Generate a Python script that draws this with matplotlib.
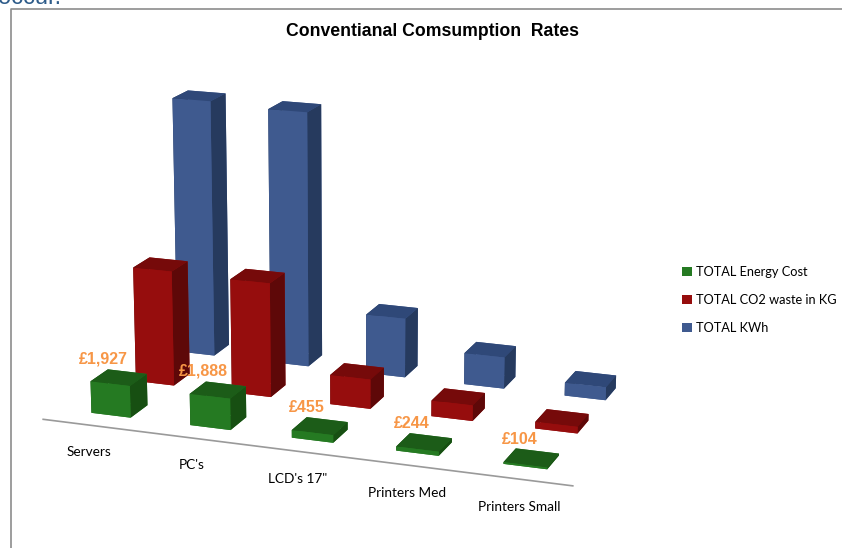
import matplotlib
matplotlib.use("Agg")
import matplotlib.pyplot as plt
from matplotlib.patches import Patch
from matplotlib.lines import Line2D

categories = ["Servers", "PC's", "LCD's 17\"", "Printers Med", "Printers Small"]
series_names = ["TOTAL Energy Cost", "TOTAL CO2 waste in KG", "TOTAL KWh"]
energy_cost = [1927, 1888, 455, 244, 104]
co2_waste = [7100, 7000, 1800, 950, 400]
kwh = [16100, 15900, 3700, 1950, 800]
cost_labels = ["£1,927", "£1,888", "£455", "£244", "£104"]

face_colors = [
    {"front": "#257A22", "top": "#1C5C18", "side": "#174F12"},
    {"front": "#960D0D", "top": "#760A0A", "side": "#5E0808"},
    {"front": "#3F5A8F", "top": "#2F4878", "side": "#263A5E"},
]
legend_colors = ["#257A22", "#960D0D", "#3F5A8F"]

fig = plt.figure(figsize=(8.42, 5.48), dpi=100)
ax = fig.add_axes([-0.295, -0.512, 1.4, 2.0], projection="3d", computed_zorder=False)
ax.set_proj_type("persp", focal_length=0.45)
ax.view_init(elev=16, azim=-70)
ax.set_box_aspect((4.7, 2.8, 2.485), zoom=0.6095)
ax.set_xlim(0, 5)
ax.set_ylim(0, 3)
ax.set_zlim(0, 16500)
ax.set_axis_off()
ax.patch.set_alpha(0)

width = 0.40
depth = 0.38
for s, vals in enumerate([energy_cost, co2_waste, kwh]):
    c = face_colors[s]
    for i, v in enumerate(vals):
        cols = [c["front"], c["top"], c["front"], c["front"], c["side"], c["side"]]
        ax.bar3d(i + 0.31, s + 0.32, 0, width, depth, v, color=cols, shade=False,
                 edgecolor=None, linewidth=0, zorder=10 - 3 * s + i)

ax.plot([-0.03, 5.03], [0, 0], [0, 0], color="#9a9a9a", lw=1.2, zorder=5)
for i, (cat, lab, v) in enumerate(zip(categories, cost_labels, energy_cost)):
    ax.text(i + 0.74, -0.65, 0, cat, fontsize=9.8, family="Lato", ha="center", va="center", zorder=30)
    ax.text(i + 0.46, 0.3, v + 1500, lab, fontsize=11.5, family="Liberation Sans", weight="bold",
            color="#F79646", ha="center", va="center", zorder=30)

fig.text(432.5 / 842, 1 - 31 / 548, "Conventianal Comsumption  Rates", fontsize=12.7,
         family="Liberation Sans", weight="bold", ha="center", va="center")
fig.text(-0.002, 1 - 4 / 548, "occur.", fontsize=17, family="Liberation Sans",
         color="#2E5C8A", ha="left", va="baseline")

fig.add_artist(Line2D([10.5 / 842, 10.5 / 842, 1], [0, 1 - 8.5 / 548, 1 - 8.5 / 548],
                      color="#8c8c8c", lw=1.2))

handles = [Patch(facecolor=c, edgecolor="none") for c in legend_colors]
fig.legend(handles, series_names, loc="center left", bbox_to_anchor=(682 / 842, 1 - 300 / 548),
           frameon=False, prop={"family": "Lato", "size": 9.2}, labelspacing=1.25,
           handlelength=0.8, handleheight=0.8, handletextpad=0.3, borderaxespad=0, borderpad=0)

fig.savefig("out.png", dpi=100)
